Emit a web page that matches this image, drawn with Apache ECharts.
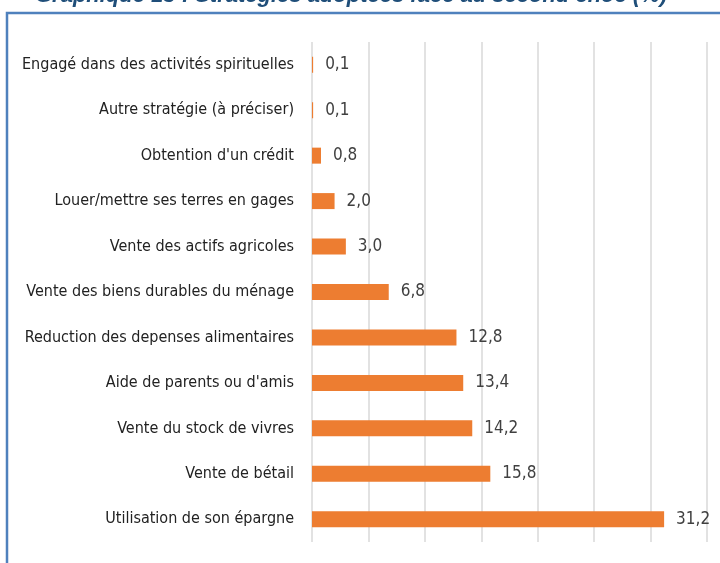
<!DOCTYPE html>
<html>
<head>
<meta charset="utf-8">
<script src="https://cdn.jsdelivr.net/npm/echarts@6/dist/echarts.min.js"></script>
<style>
  html, body { margin: 0; padding: 0; background: #fff; }
  #chart { width: 720px; height: 563px; }
</style>
</head>
<body>
<div id="chart"></div>
<script>
var titleText = 'Graphique 13 : Stratégies adoptées face au second choc (%)';
var categories = [
    'Engagé dans des activités spirituelles',
    'Autre stratégie (à préciser)',
    "Obtention d'un crédit",
    'Louer/mettre ses terres en gages',
    'Vente des actifs agricoles',
    'Vente des biens durables du ménage',
    'Reduction des depenses alimentaires',
    "Aide de parents ou d'amis",
    'Vente du stock de vivres',
    'Vente de bétail',
    'Utilisation de son épargne'
];
var values = [0.1, 0.1, 0.8, 2.0, 3.0, 6.8, 12.8, 13.4, 14.2, 15.8, 31.2];

var labelFont = "'Liberation Sans Narrow', 'DejaVu Sans Condensed', sans-serif";

function draw_barchart(id){
    var myChart = echarts.init(document.getElementById(id));
    var option = {
        animation: false,
        title: {
            text: titleText,
            left: 30,
            top: -20,
            textStyle: {
                fontFamily: "'Liberation Sans', sans-serif",
                fontSize: 22,
                fontStyle: 'italic',
                fontWeight: 'bold',
                color: '#1f4e79'
            }
        },
        graphic: [{
            type: 'rect',
            shape: { x: 7, y: 13, width: 760, height: 600 },
            style: { fill: 'none', stroke: '#4f81bd', lineWidth: 2.5 },
            silent: true
        }],
        grid: {
            left: 312,
            right: 13,
            top: 42,
            bottom: 21
        },
        xAxis: {
            type: 'value',
            min: 0,
            max: 35,
            interval: 5,
            axisLine: { show: false },
            axisTick: { show: false },
            axisLabel: { show: false },
            splitLine: { show: true, lineStyle: { color: '#d9d9d9', width: 1.5 } }
        },
        yAxis: {
            type: 'category',
            inverse: true,
            data: categories,
            axisLine: { show: false },
            axisTick: { show: false },
            axisLabel: {
                margin: 18,
                fontFamily: labelFont,
                fontSize: 16,
                color: '#222'
            }
        },
        series: [{
            type: 'bar',
            data: values,
            barWidth: 16,
            itemStyle: { color: '#ed7d31' },
            label: {
                show: true,
                position: 'right',
                distance: 12,
                fontFamily: labelFont,
                fontSize: 17,
                color: '#404040',
                formatter: function (p) {
                    return p.value.toFixed(1).replace('.', ',');
                }
            }
        }]
    };
    myChart.setOption(option);
}

draw_barchart('chart');
</script>
</body>
</html>
